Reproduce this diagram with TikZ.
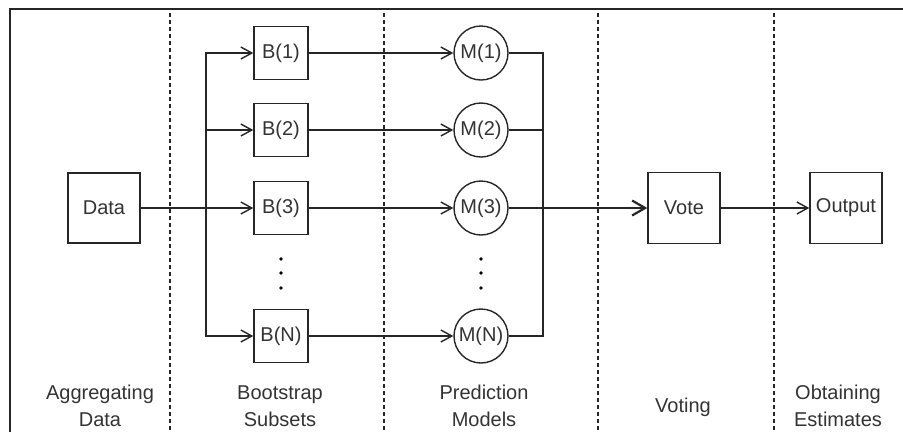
\documentclass[tikz,border=0pt]{standalone}
\usepackage{fontspec}
\setmainfont{Liberation Sans}
\usetikzlibrary{arrows.meta}

\begin{document}
\begin{tikzpicture}[x=1pt, y=-1pt, line width=1.4pt, draw=black!85, >={Straight Barb[length=11pt, width=12pt]}]
  \tikzstyle{every node}=[font=\fontsize{20}{27}\selectfont, inner sep=0pt, text=black!80]
  \tikzstyle{block}=[draw, rectangle, minimum width=72pt, minimum height=70pt]
  \tikzstyle{subset}=[block, minimum width=54pt, minimum height=53pt]
  \tikzstyle{model}=[draw, circle, minimum size=54pt]
  \tikzstyle{divider}=[line width=1.2pt, dash pattern=on 4pt off 3pt]
  \tikzstyle{stage}=[align=center]

  \useasboundingbox (0,0) rectangle (903,432);

  % frame and column separators
  \draw (10,432) -- (10,9) -- (903,9);
  \foreach \x in {170,384,598,774}
    \draw[divider] (\x,13) -- (\x,432);

  \node[block] (data) at (104,208) {Data};

  \node[subset] (b1) at (281,53) {B(1)};
  \node[subset] (b2) at (281,130) {B(2)};
  \node[subset] (b3) at (281,208) {B(3)};
  \node[subset] (bn) at (281,336) {B(N)};

  \node[model] (m1) at (481,53) {M(1)};
  \node[model] (m2) at (481,130) {M(2)};
  \node[model] (m3) at (481,208) {M(3)};
  \node[model] (mn) at (481,336) {M(N)};

  \node[block, minimum height=71pt] (vote) at (684,208) {Vote};
  \node[block, minimum height=71pt] (output) at (846,208) {Output};

  % vertical dots
  \foreach \y in {259,273,288} {
    \fill (281,\y) circle (1.8pt);
    \fill (481,\y) circle (1.8pt);
  }

  \coordinate (split) at (206,208);
  \coordinate (merge) at (543,208);

  \draw[->] (data) -- (b3);
  \foreach \n in {1,2,n}
    \draw[->] (split) |- (b\n);
  \foreach \n in {1,2,3,n}
    \draw[->] (b\n) -- (m\n);
  \foreach \n in {1,2,n}
    \draw (m\n) -| (merge);
  \draw[-{Straight Barb[length=13pt, width=15pt, line width=2.2pt]}] (m3) -- (vote);
  \draw[->] (vote) -- (output);

  % stage labels
  \node[stage] (lab1) at (100,406) {Aggregating\\Data};
  \node[stage] (lab2) at (280,406) {Bootstrap\\Subsets};
  \node[stage] (lab3) at (484,406) {Prediction\\Models};
  \node[stage] (lab4) at (683,407) {Voting};
  \node[stage] (lab5) at (838,406) {Obtaining\\Estimates};
\end{tikzpicture}
\end{document}
